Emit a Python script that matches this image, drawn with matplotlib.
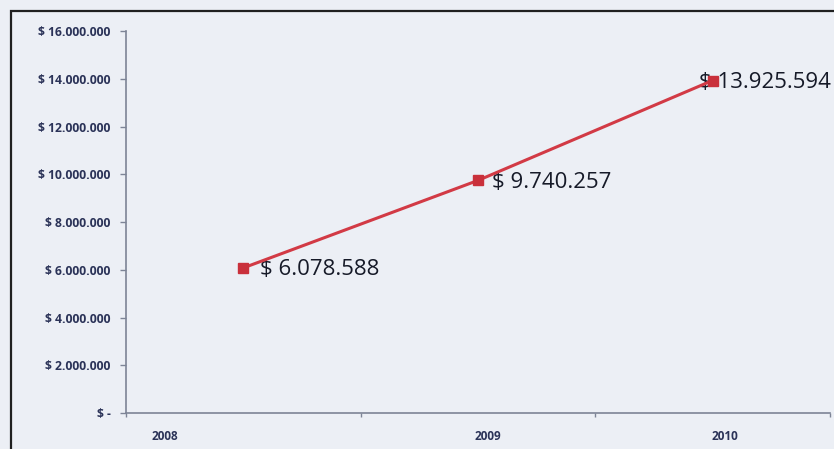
import matplotlib.pyplot as plt
import matplotlib.transforms as mtransforms
from matplotlib.patches import Rectangle
from matplotlib.ticker import FixedLocator, FuncFormatter

years = ['2008', '2009', '2010']
values = [6078588, 9740257, 13925594]
value_labels = ['$ 6.078.588', '$ 9.740.257', '$ 13.925.594']
y_ticks = [0, 2000000, 4000000, 6000000, 8000000, 10000000, 12000000, 14000000, 16000000]

bg = '#eceff5'
txt = '#2b3358'
axis_col = '#7d8496'
red = '#d23a45'

plt.rcParams['font.family'] = ['Open Sans', 'DejaVu Sans']

fig = plt.figure(figsize=(8.34, 4.49), dpi=100, facecolor=bg)
ax = fig.add_axes([0.151, 0.080, 0.844, 0.851])
ax.set_facecolor(bg)

x = list(range(len(years)))
ax.plot(x, values, color=red, lw=2.2, marker='s', ms=7, mfc='#c9303b', mec='#c9303b',
        zorder=5)

ax.set_xlim(-0.5, 2.5)
ax.set_ylim(0, 16000000)


def money(v, pos):
    if v == 0:
        return '$ -'
    return '$ ' + f'{int(v):,}'.replace(',', '.')


ax.yaxis.set_major_locator(FixedLocator(y_ticks))
ax.yaxis.set_major_formatter(FuncFormatter(money))
ax.tick_params(axis='y', direction='out', length=4, width=1, color=axis_col,
               labelsize=8.7, labelcolor=txt, pad=7)
for t in ax.get_yticklabels():
    t.set_fontweight('bold')

# category boundaries as ticks, labels on minor ticks
ax.set_xticks([-0.5, 0.5, 1.5, 2.5])
ax.set_xticklabels([])
ax.tick_params(axis='x', which='major', direction='out', length=3, width=1, color=axis_col)
ax.set_xticks(x, minor=True)
ax.set_xticklabels(years, minor=True)
ax.tick_params(axis='x', which='minor', length=0, labelsize=8.5, labelcolor=txt, pad=12)
label_shift = [-78, 10, 12]
for t, dx in zip(ax.get_xticklabels(minor=True), label_shift):
    t.set_fontweight('bold')
    t.set_transform(t.get_transform() + mtransforms.ScaledTranslation(dx / 100, 0, fig.dpi_scale_trans))

for s in ['top', 'right']:
    ax.spines[s].set_visible(False)
for s in ['left', 'bottom']:
    ax.spines[s].set_color(axis_col)
    ax.spines[s].set_linewidth(1.2)

label_dx = [12, 10.5, -10]
for xi, v, lab, dx in zip(x, values, value_labels, label_dx):
    ax.annotate(lab, (xi, v), xytext=(dx, -1.5), textcoords='offset points',
                ha='left', va='center', fontsize=16, color='#161a28', zorder=4)

fig.patches.append(Rectangle((11 / 834, -0.1), 1.2, 1 - 11 / 449 + 0.1,
                             transform=fig.transFigure, fill=False,
                             edgecolor='#202020', lw=1.6))

fig.savefig('out.png', dpi=100, facecolor=bg)
